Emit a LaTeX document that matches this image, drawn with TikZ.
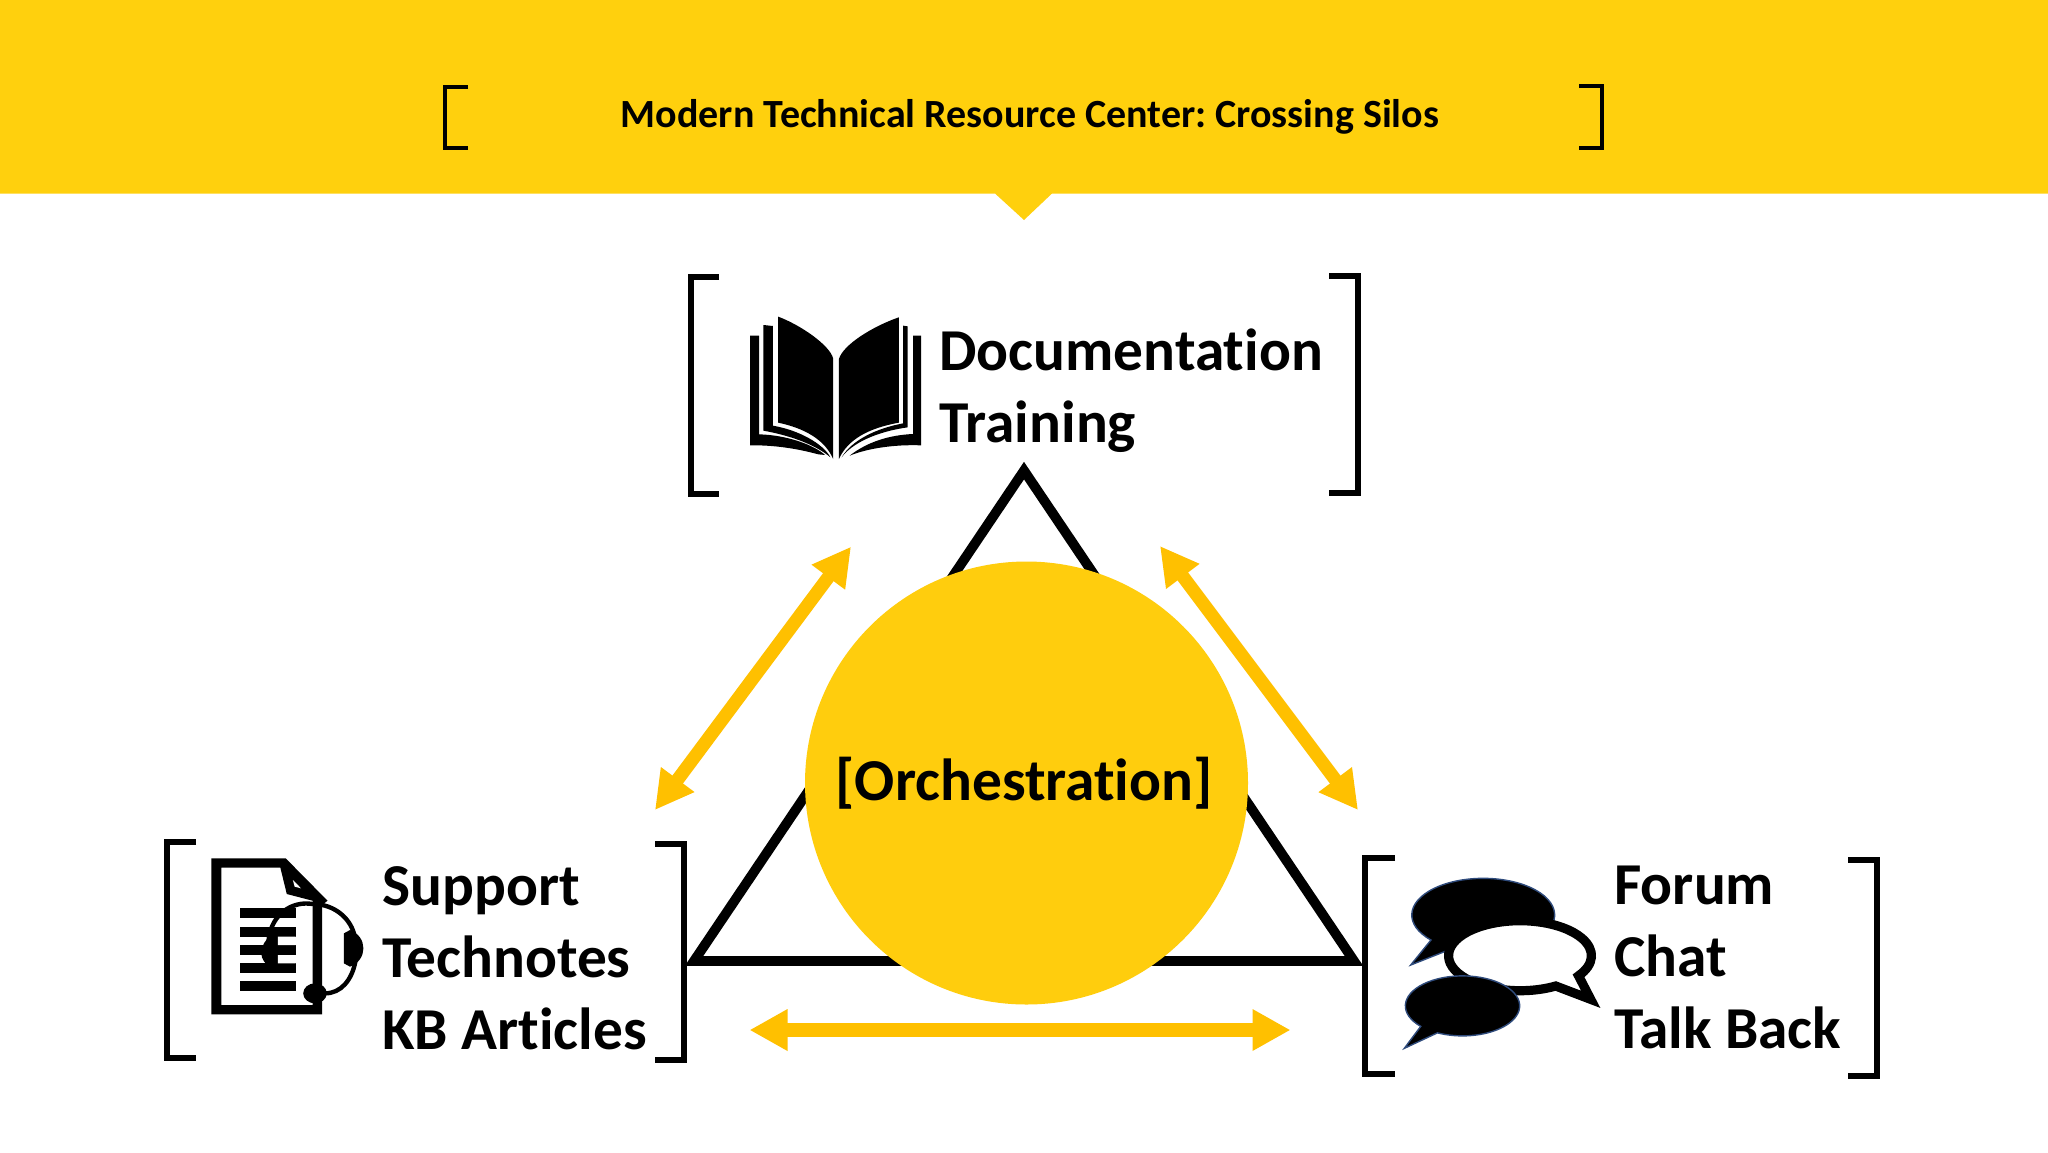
\documentclass[tikz,border=0pt]{standalone}
\usepackage{fontspec}
\setmainfont[Ligatures=NoCommon]{Carlito}
\usetikzlibrary{arrows.meta}
\definecolor{bannerY}{HTML}{FFD00D}
\definecolor{hubY}{HTML}{FFCD0D}
\definecolor{arrowY}{HTML}{FFC000}
\definecolor{bubbleEdge}{HTML}{2F4B7C}
\tikzset{
  bracket/.style={draw=black,line width=3.2pt,line cap=butt,miter limit=10},
  smallbracket/.style={draw=black,line width=2.2pt},
  labeltext/.style={anchor=base west,align=left,inner sep=0pt,
     font=\fontsize{29.7}{36}\selectfont\bfseries},
  biarrow/.style={draw=arrowY,line width=6.6pt,
     {Triangle[length=19pt,width=19.5pt]}-{Triangle[length=19pt,width=19.5pt]}},
  bubble/.style={fill=black,draw=bubbleEdge,line width=0.7pt},
  bookZ/.style={shift={(680,260)},xscale=0.44643,yscale=0.33333},
  docZ/.style={shift={(150,830)},xscale=0.35714,yscale=0.33333},
  chatZ/.style={shift={(1350,840)},xscale=0.35714,yscale=0.33333},
}
\begin{document}
\frenchspacing
\begin{tikzpicture}[x=0.5pt,y=-0.5pt]
\useasboundingbox (0,0) rectangle (2048,1152);
\fill[white] (0,0) rectangle (2048,1152);
% banner
\fill[bannerY] (0,0) -- (2048,0) -- (2048,193.5) -- (1052,193.5) -- (1024,220) -- (995,193.5) -- (0,193.5) -- cycle;
\draw[smallbracket] (468,87) -- (445,87) -- (445,148) -- (468,148);
\draw[smallbracket] (1579,86) -- (1602,86) -- (1602,148) -- (1579,148);
\node[anchor=base,inner sep=0pt,font=\fontsize{20}{24}\selectfont\bfseries] (title) at (1030,127.5) {Modern Technical Resource Center: Crossing Silos};
% triangle
\coordinate (apex) at (1024,470.6);
\coordinate (cornerL) at (694,961);
\coordinate (cornerR) at (1354,961);
\draw[line width=4.9pt,line join=miter] (apex) -- (cornerL) -- (cornerR) -- cycle;
% hub
\node[circle,fill=hubY,minimum size=221.5pt,inner sep=0pt,font=\fontsize{29.7}{36}\selectfont\bfseries] (hub) at (1026.5,783) {[Orchestration]\kern2.4pt};
% arrows
\coordinate (a1) at (851,546.7);
\coordinate (a2) at (655,810);
\coordinate (b1) at (1160,546);
\coordinate (b2) at (1358,810);
\coordinate (c1) at (749.5,1030);
\coordinate (c2) at (1290.5,1030);
\draw[biarrow] (a1) -- (a2);
\draw[biarrow] (b1) -- (b2);
\draw[biarrow] (c1) -- (c2);
% documentation group
\draw[bracket] (719,277) -- (691,277) -- (691,494) -- (719,494);
\draw[bracket] (1329,276) -- (1358,276) -- (1358,493) -- (1329,493);
\node[labeltext] (docs) at (939,442) {Documentation\\Training};
\begin{scope}[bookZ]
  \fill (220,170) .. controls (270,195) and (335,255) .. (343,295) -- (343,597) .. controls (325,540) and (280,505) .. (220,488) -- cycle;
  \fill (187,195) -- (208,198) -- (208,497) .. controls (265,510) and (320,550) .. (337,592) .. controls (300,550) and (240,525) .. (187,512) -- cycle;
  \fill (157,227) -- (177,227) -- (177,523) .. controls (240,525) and (300,555) .. (325,585) -- (310,583) .. controls (260,565) and (210,555) .. (157,556) -- cycle;
  \fill (490,172) .. controls (430,200) and (365,255) .. (356,297) -- (356,597) .. controls (375,540) and (420,505) .. (490,488) -- cycle;
  \fill (500,197) -- (510,199) -- (510,502) .. controls (440,515) and (385,550) .. (362,592) .. controls (385,540) and (440,505) .. (500,490) -- cycle;
  \fill (522,227) -- (540,227) -- (540,556) .. controls (480,553) and (420,565) .. (380,587) .. controls (420,545) and (470,525) .. (522,522) -- cycle;
\end{scope}
% support group
\draw[bracket] (196,842) -- (167,842) -- (167,1058) -- (196,1058);
\draw[bracket] (655,844) -- (684,844) -- (684,1060) -- (655,1060);
\node[labeltext] (support) at (382,1049) {Support\\Technotes\\KB Articles};
\begin{scope}[docZ]
  \fill[even odd rule] (172,85) -- (380,85) -- (497,212) -- (482,225) -- (482,553) -- (172,553) -- cycle
     (200,113) -- (365,113) -- (383,192) -- (455,212) -- (455,525) -- (200,525) -- cycle;
  \fill[white] (400,150) -- (423,175) -- (405,170) -- cycle;
  \foreach \yy in {235,290,345,400,453} \fill (253,\yy) rectangle (408,\yy+30);
  \draw[line width=2.2pt] (332,330) .. controls (340,250) and (400,212) .. (455,222) .. controls (520,222) and (565,270) .. (573,320);
  \draw[line width=2.2pt] (575,395) .. controls (565,450) and (535,490) .. (490,490);
  \fill (350,310) .. controls (315,325) and (295,380) .. (330,405) -- (358,405) -- (358,310) -- cycle;
  \fill[white] (358,320) rectangle (408,345) (358,375) rectangle (408,400);
  \fill (543,310) -- (560,300) .. controls (610,320) and (610,390) .. (560,410) -- (543,400) -- cycle;
  \fill (462,490) ellipse [x radius=33,y radius=30];
\end{scope}
% community group
\draw[bracket] (1395,858) -- (1365,858) -- (1365,1074) -- (1395,1074);
\draw[bracket] (1848,860) -- (1877,860) -- (1877,1076) -- (1848,1076);
\node[labeltext] (forum) at (1614,1048) {Forum\\Chat\\Talk Back};
\begin{scope}[chatZ]
  \draw[bubble] (170,375) -- (226.7,300) arc[start angle=137,end angle=475,x radius=200,y radius=110] -- cycle;
  \draw[fill=white,draw=black,line width=4.6pt,miter limit=10] (674,478) -- (576,438) arc[start angle=60,end angle=395,x radius=200,y radius=105] -- cycle;
  \draw[bubble] (152,625) -- (198,559) arc[start angle=137,end angle=476,x radius=160,y radius=90] -- cycle;
\end{scope}
\end{tikzpicture}
\end{document}
